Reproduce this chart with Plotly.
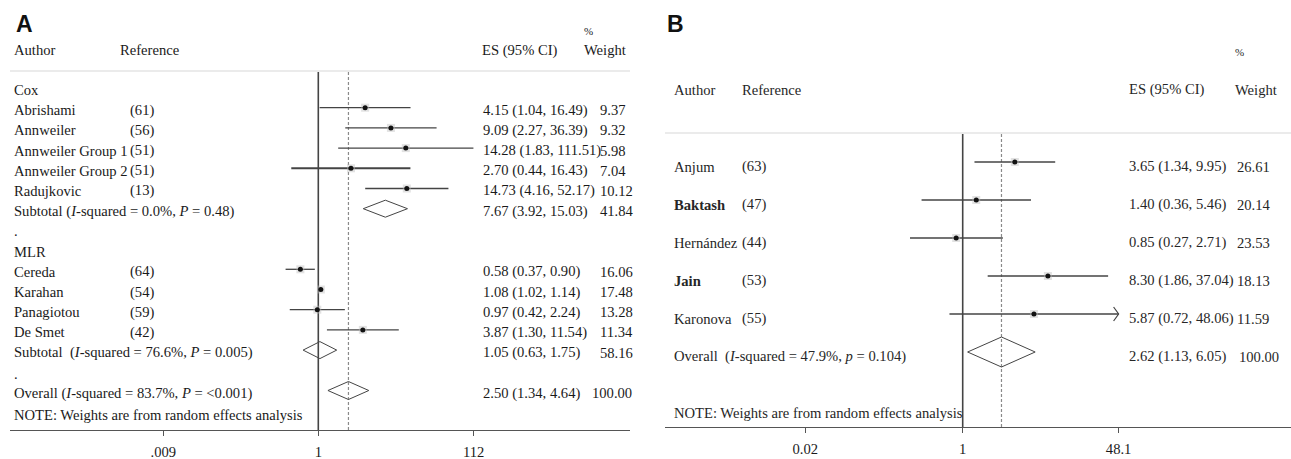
import plotly.graph_objects as go
import math

W, H = 1291, 459

# ---------------- Data: panel A ----------------
a_cox_authors = ["Abrishami", "Annweiler", "Annweiler Group 1", "Annweiler Group 2", "Radujkovic"]
a_cox_refs = ["(61)", "(56)", "(51)", "(51)", "(13)"]
a_cox_es = [4.15, 9.09, 14.28, 2.70, 14.73]
a_cox_lo = [1.04, 2.27, 1.83, 0.44, 4.16]
a_cox_hi = [16.49, 36.39, 111.51, 16.43, 52.17]
a_cox_w = [9.37, 9.32, 5.98, 7.04, 10.12]
a_cox_sub = [7.67, 3.92, 15.03, 41.84]
a_cox_sub_label = "Subtotal (<i>I</i>-squared = 0.0%, <i>P</i> = 0.48)"

a_mlr_authors = ["Cereda", "Karahan", "Panagiotou", "De Smet"]
a_mlr_refs = ["(64)", "(54)", "(59)", "(42)"]
a_mlr_es = [0.58, 1.08, 0.97, 3.87]
a_mlr_lo = [0.37, 1.02, 0.42, 1.30]
a_mlr_hi = [0.90, 1.14, 2.24, 11.54]
a_mlr_w = [16.06, 17.48, 13.28, 11.34]
a_mlr_sub = [1.05, 0.63, 1.75, 58.16]
a_mlr_sub_label = "Subtotal  (<i>I</i>-squared = 76.6%, <i>P</i> = 0.005)"

a_overall = [2.50, 1.34, 4.64, 100.00]
a_overall_label = "Overall (<i>I</i>-squared = 83.7%, <i>P</i> = <0.001)"
a_ticks = [0.009, 1, 112]
a_ticktext = [".009", "1", "112"]

# ---------------- Data: panel B ----------------
b_authors = ["Anjum", "<b>Baktash</b>", "Hernández", "<b>Jain</b>", "Karonova"]
b_refs = ["(63)", "(47)", "(44)", "(53)", "(55)"]
b_es = [3.65, 1.40, 0.85, 8.30, 5.87]
b_lo = [1.34, 0.36, 0.27, 1.86, 0.72]
b_hi = [9.95, 5.46, 2.71, 37.04, 48.06]
b_w = [26.61, 20.14, 23.53, 18.13, 11.59]
b_overall = [2.62, 1.13, 6.05, 100.00]
b_overall_label = "Overall  (<i>I</i>-squared = 47.9%, <i>p</i> = 0.104)"
b_ticks = [0.02, 1, 48.1]
b_ticktext = ["0.02", "1", "48.1"]

note = "NOTE: Weights are from random effects analysis"

# ---------------- Layout constants (pixels) ----------------
FONT = "Liberation Serif"
FS = 14.6
TXT_A = "#1a1a1a"
TXT_B = "#262626"
LINE = "#444444"

# panel A geometry
A_X0, A_X1, A_AXIS_Y = 10, 630, 430
A_ONE_PX, A_PX_DEC = 318.3, 75.77
A_ROW0, A_STEP = 87.5, 20.2
A_SEP_Y = 71
# panel B geometry
B_X0, B_X1, B_AXIS_Y = 665, 1291, 427
B_ONE_PX, B_PX_DEC = 962.7, 92.7
B_ROW0, B_STEP = 162, 38
B_SEP_Y = 133


def fmt_es(v):
    return f"{v[0]:.2f} ({v[1]:.2f}, {v[2]:.2f})"


fig = go.Figure()
ann = []


def text(x, y, s, size=FS, color=TXT_A, align="left", family=FONT):
    ann.append(dict(x=x / W, y=1 - y / H, xref="paper", yref="paper", text=s,
                    showarrow=False, xanchor=align, yanchor="middle",
                    font=dict(family=family, size=size, color=color)))


def study(xa, ya, es, lo, hi, y, width=1.3):
    fig.add_trace(go.Scatter(x=[lo, hi], y=[y, y], mode="lines", xaxis=xa, yaxis=ya,
                             line=dict(color=LINE, width=width), hoverinfo="skip", showlegend=False))
    fig.add_trace(go.Scatter(x=[es], y=[y], mode="markers", xaxis=xa, yaxis=ya,
                             marker=dict(symbol="square", size=8, color="rgba(190,190,190,0.45)"),
                             hoverinfo="skip", showlegend=False))
    fig.add_trace(go.Scatter(x=[es], y=[y], mode="markers", xaxis=xa, yaxis=ya,
                             marker=dict(size=5, color="#111111"), hoverinfo="skip", showlegend=False))


def diamond(xa, ya, v, y, h):
    es, lo, hi = v[0], v[1], v[2]
    fig.add_trace(go.Scatter(x=[lo, es, hi, es, lo], y=[y, y - h, y, y + h, y], mode="lines",
                             xaxis=xa, yaxis=ya, line=dict(color=LINE, width=1),
                             hoverinfo="skip", showlegend=False))


# ---------------- Panel A ----------------
xa, ya = "x", "y"
ay = lambda i: A_ROW0 + A_STEP * i
TA = 2.5  # text offset

fig.add_trace(go.Scatter(x=[1, 1], y=[A_SEP_Y + 1, A_AXIS_Y], mode="lines", xaxis=xa, yaxis=ya,
                         line=dict(color=LINE, width=1.6), hoverinfo="skip", showlegend=False))
fig.add_trace(go.Scatter(x=[a_overall[0], a_overall[0]], y=[A_SEP_Y + 1, A_AXIS_Y], mode="lines",
                         xaxis=xa, yaxis=ya, line=dict(color="#8a8a8a", width=1.2, dash="3px,2px"),
                         hoverinfo="skip", showlegend=False))

text(14, 24, "<b>A</b>", size=23, color="#111", family="Liberation Sans")
text(588, 31, "%", size=11, color=TXT_A, align="center")
text(12, 50, "Author")
text(118, 50, "Reference")
text(480, 50, "ES (95% CI)")
text(582, 50, "Weight")

text(12, ay(0) + TA, "Cox")
for i, (au, rf, e, l, h, w) in enumerate(zip(a_cox_authors, a_cox_refs, a_cox_es, a_cox_lo, a_cox_hi, a_cox_w)):
    r = i + 1
    study(xa, ya, e, l, h, ay(r), width=2.0 if au.endswith("2") else 1.3)
    text(12, ay(r) + TA, au)
    text(128, ay(r) + TA, rf)
    text(481, ay(r) + TA, fmt_es([e, l, h]))
    text(598, ay(r) + TA, f"{w:.2f}")
r = len(a_cox_authors) + 1
diamond(xa, ya, a_cox_sub, ay(r), 8.5)
text(12, ay(r) + TA, a_cox_sub_label)
text(481, ay(r) + TA, fmt_es(a_cox_sub))
text(598, ay(r) + TA, f"{a_cox_sub[3]:.2f}")
r += 1
text(12, ay(r) + 2, ".")
r += 1
text(12, ay(r) + TA, "MLR")
for au, rf, e, l, h, w in zip(a_mlr_authors, a_mlr_refs, a_mlr_es, a_mlr_lo, a_mlr_hi, a_mlr_w):
    r += 1
    study(xa, ya, e, l, h, ay(r))
    text(12, ay(r) + TA, au)
    text(128, ay(r) + TA, rf)
    text(481, ay(r) + TA, fmt_es([e, l, h]))
    text(598, ay(r) + TA, f"{w:.2f}")
r += 1
diamond(xa, ya, a_mlr_sub, ay(r), 8.5)
text(12, ay(r) + TA, a_mlr_sub_label)
text(481, ay(r) + TA, fmt_es(a_mlr_sub))
text(598, ay(r) + TA, f"{a_mlr_sub[3]:.2f}")
r += 1
text(12, ay(r) + 4, ".")
r += 1
diamond(xa, ya, a_overall, ay(r), 9)
text(12, ay(r) + TA, a_overall_label)
text(481, ay(r) + TA, fmt_es(a_overall))
text(590, ay(r) + TA, f"{a_overall[3]:.2f}")
text(12, 415, note)

# ---------------- Panel B ----------------
xb, yb = "x2", "y2"
by = lambda i: B_ROW0 + B_STEP * i
TB = 4.5

fig.add_trace(go.Scatter(x=[1, 1], y=[B_SEP_Y + 1, B_AXIS_Y], mode="lines", xaxis=xb, yaxis=yb,
                         line=dict(color=LINE, width=1.6), hoverinfo="skip", showlegend=False))
fig.add_trace(go.Scatter(x=[b_overall[0], b_overall[0]], y=[B_SEP_Y + 1, B_AXIS_Y], mode="lines",
                         xaxis=xb, yaxis=yb, line=dict(color="#8a8a8a", width=1.2, dash="3px,2px"),
                         hoverinfo="skip", showlegend=False))

text(665, 24, "<b>B</b>", size=23, color="#111", family="Liberation Sans")
text(1239, 52, "%", size=11, color=TXT_B, align="center")
text(672, 90, "Author", color=TXT_B)
text(740, 90, "Reference", color=TXT_B)
text(1127, 90, "ES (95% CI)", color=TXT_B)
text(1233, 90, "Weight", color=TXT_B)

for i, (au, rf, e, l, h, w) in enumerate(zip(b_authors, b_refs, b_es, b_lo, b_hi, b_w)):
    y = by(i)
    study(xb, yb, e, l, h, y)
    text(672, y + TB, au, color=TXT_B)
    text(740, y + TB, rf, color=TXT_B)
    text(1127, y + TB, fmt_es([e, l, h]), color=TXT_B)
    text(1235, y + TB, f"{w:.2f}", color=TXT_B)
    if h >= b_ticks[-1] * 0.99:
        back = h / 10 ** (5 / B_PX_DEC)
        fig.add_trace(go.Scatter(x=[back, h, back], y=[y - 7, y, y + 7], mode="lines",
                                 xaxis=xb, yaxis=yb, line=dict(color=LINE, width=1.2),
                                 hoverinfo="skip", showlegend=False))
yo = by(len(b_authors))
diamond(xb, yb, b_overall, yo, 15)
text(672, yo + TB, b_overall_label, color=TXT_B)
text(1127, yo + TB, fmt_es(b_overall), color=TXT_B)
text(1237, yo + TB, f"{b_overall[3]:.2f}", color=TXT_B)
text(672, 413, note, color=TXT_B)

shapes = [
    dict(type="line", xref="paper", yref="paper", x0=A_X0 / W, x1=A_X1 / W,
         y0=1 - A_SEP_Y / H, y1=1 - A_SEP_Y / H, line=dict(color="#d8d8d8", width=1.2)),
    dict(type="line", xref="paper", yref="paper", x0=B_X0 / W, x1=B_X1 / W,
         y0=1 - B_SEP_Y / H, y1=1 - B_SEP_Y / H, line=dict(color="#d8d8d8", width=1.2)),
]

axis_common = dict(type="log", showline=True, linecolor="#555555", linewidth=1.3,
                   ticks="outside", ticklen=5, tickcolor="#555555", tickwidth=1.2,
                   showgrid=False, zeroline=False, ticklabelstandoff=3,
                   tickfont=dict(family=FONT, size=FS, color=TXT_A), fixedrange=True)

fig.update_layout(
    width=W, height=H, margin=dict(l=0, r=0, t=0, b=0),
    paper_bgcolor="white", plot_bgcolor="rgba(0,0,0,0)", showlegend=False,
    xaxis=dict(domain=[A_X0 / W, A_X1 / W], anchor="y",
               range=[-(A_ONE_PX - A_X0) / A_PX_DEC, (A_X1 - A_ONE_PX) / A_PX_DEC],
               tickvals=a_ticks, ticktext=a_ticktext, **axis_common),
    yaxis=dict(domain=[(H - A_AXIS_Y) / H, 1], range=[A_AXIS_Y, 0], visible=False, fixedrange=True),
    xaxis2=dict(domain=[B_X0 / W, B_X1 / W], anchor="y2",
                range=[-(B_ONE_PX - B_X0) / B_PX_DEC, (B_X1 - B_ONE_PX) / B_PX_DEC],
                tickvals=b_ticks, ticktext=b_ticktext, **axis_common),
    yaxis2=dict(domain=[(H - B_AXIS_Y) / H, 1], range=[B_AXIS_Y, 0], visible=False, fixedrange=True),
    annotations=ann, shapes=shapes,
)

fig.write_html("out.html", config={"displayModeBar": False},
               post_script="document.body.style.margin='0';document.body.style.overflow='hidden';")
